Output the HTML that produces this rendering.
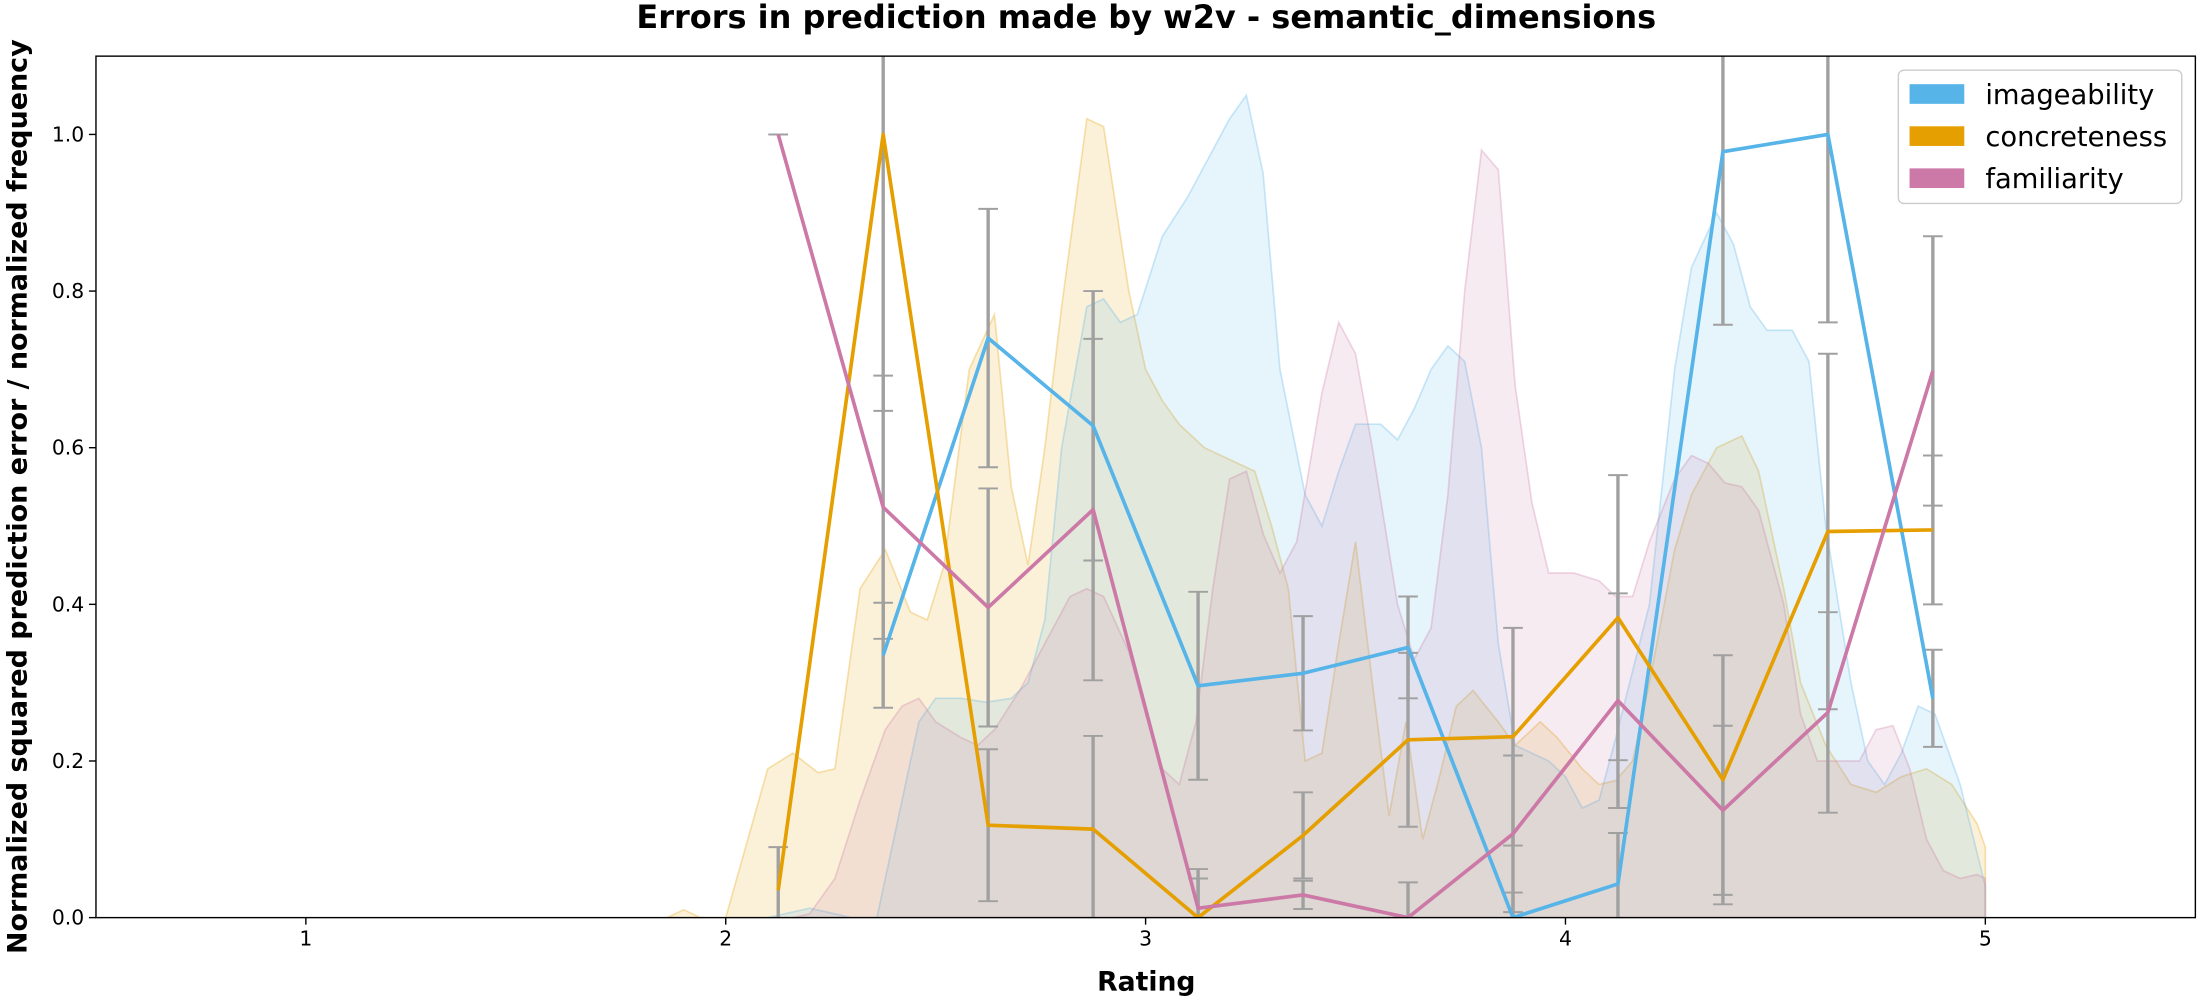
<!DOCTYPE html>
<html><head><meta charset="utf-8"><style>html,body{margin:0;padding:0;background:#fff}svg{display:block}</style></head>
<body>
<svg id="chart" width="2200" height="1000" viewBox="0 0 1568 712.7" xmlns="http://www.w3.org/2000/svg" font-family="'DejaVu Sans','Liberation Sans',sans-serif">
<defs><clipPath id="plotclip"><rect x="68.4" y="40" width="1496.3" height="614"/></clipPath></defs>
<rect width="1568" height="712.7" fill="#fff"/>
<text x="817" y="20" text-anchor="middle" font-size="22.8" font-weight="bold">Errors in prediction made by w2v - semantic_dimensions</text>
<g id="areas" clip-path="url(#plotclip)"></g>
<g id="errs" clip-path="url(#plotclip)"></g>
<g id="lines" clip-path="url(#plotclip)"></g>
<rect x="68.4" y="40" width="1496.3" height="614" fill="none" stroke="#000" stroke-width="1"/>
<g id="xticks"></g><g id="yticks"></g>
<text x="817" y="706" text-anchor="middle" font-size="19" font-weight="bold">Rating</text>
<text transform="translate(19,354) rotate(-90)" text-anchor="middle" font-size="19.2" font-weight="bold">Normalized squared prediction error / normalized frequency</text>
<g>
<rect x="1353" y="50" width="202" height="95" rx="4" fill="#fff" fill-opacity="0.8" stroke="#ccc" stroke-width="1"/>
<rect x="1361" y="60" width="39" height="14" fill="#56B4E9"/>
<text x="1415" y="74" font-size="19.5">imageability</text>
<rect x="1361" y="90" width="39" height="14" fill="#E69F00"/>
<text x="1415" y="104" font-size="19.5">concreteness</text>
<rect x="1361" y="120" width="39" height="14" fill="#CC79A7"/>
<text x="1415" y="134" font-size="19.5">familiarity</text>
</g>
</svg>
<script>
const xTicks = [1, 2, 3, 4, 5];
const yTicks = [0.0, 0.2, 0.4, 0.6, 0.8, 1.0];
const binCenters = [2.125, 2.375, 2.625, 2.875, 3.125, 3.375, 3.625, 3.875, 4.125, 4.375, 4.625, 4.875];
const imageErr = [null, 0.335, 0.74, 0.628, 0.296, 0.312, 0.345, 0.0, 0.043, 0.978, 1.0, 0.28];
const imageSd = [0, 0.067, 0.165, 0.172, 0.12, 0.073, 0.065, 0.032, 0.065, 0.221, 0.24, 0.062];
const concErr = [0.035, 1.0, 0.118, 0.113, 0.0, 0.105, 0.227, 0.231, 0.383, 0.176, 0.493, 0.495];
const concSd = [0.055, 0.353, 0.097, 0.119, 0.05, 0.055, 0.111, 0.139, 0.182, 0.159, 0.227, 0.095];
const famErr = [1.0, 0.524, 0.396, 0.521, 0.012, 0.029, 0.0, 0.107, 0.277, 0.137, 0.262, 0.698];
const famSd = [0, 0.168, 0.152, 0.218, 0.05, 0.018, 0.045, 0.1, 0.137, 0.108, 0.128, 0.172];
const concDensX = [1.86,1.9,1.94,2.0,2.1,2.16,2.22,2.26,2.32,2.38,2.44,2.48,2.52,2.58,2.64,2.68,2.72,2.76,2.8,2.86,2.9,2.96,3.0,3.04,3.08,3.14,3.2,3.26,3.3,3.34,3.38,3.42,3.46,3.5,3.54,3.58,3.62,3.66,3.7,3.74,3.78,3.84,3.88,3.94,3.98,4.04,4.08,4.12,4.16,4.2,4.26,4.3,4.36,4.42,4.46,4.52,4.56,4.62,4.68,4.74,4.8,4.86,4.92,4.98,5.0];
const concDens = [0,0.01,0,0,0.19,0.21,0.185,0.19,0.42,0.47,0.39,0.38,0.45,0.7,0.77,0.55,0.45,0.6,0.78,1.02,1.01,0.8,0.7,0.66,0.63,0.6,0.585,0.57,0.5,0.42,0.2,0.21,0.35,0.48,0.3,0.13,0.25,0.1,0.18,0.27,0.29,0.25,0.22,0.25,0.23,0.19,0.17,0.175,0.2,0.3,0.47,0.54,0.6,0.615,0.57,0.42,0.3,0.22,0.17,0.16,0.18,0.19,0.17,0.12,0.09];
const imageDensX = [2.1,2.2,2.3,2.36,2.4,2.46,2.5,2.56,2.62,2.68,2.72,2.76,2.8,2.86,2.9,2.94,2.98,3.04,3.1,3.14,3.2,3.24,3.28,3.32,3.38,3.42,3.46,3.5,3.56,3.6,3.64,3.68,3.72,3.76,3.8,3.84,3.88,3.92,3.96,4.0,4.04,4.08,4.12,4.2,4.26,4.3,4.36,4.4,4.44,4.48,4.54,4.58,4.62,4.68,4.72,4.76,4.8,4.84,4.88,4.94,5.0];
const imageDens = [0,0.012,0,0,0.1,0.25,0.28,0.28,0.275,0.28,0.3,0.38,0.6,0.78,0.79,0.76,0.77,0.87,0.92,0.96,1.02,1.05,0.95,0.7,0.54,0.5,0.57,0.63,0.63,0.61,0.65,0.7,0.73,0.71,0.6,0.35,0.22,0.21,0.2,0.18,0.14,0.15,0.23,0.4,0.7,0.83,0.9,0.86,0.78,0.75,0.75,0.71,0.5,0.3,0.2,0.17,0.21,0.27,0.26,0.17,0.04];
const famDensX = [2.16,2.2,2.26,2.32,2.38,2.42,2.46,2.5,2.56,2.6,2.64,2.7,2.76,2.82,2.86,2.9,2.96,3.0,3.04,3.08,3.12,3.16,3.2,3.24,3.28,3.32,3.36,3.42,3.46,3.5,3.54,3.6,3.64,3.68,3.72,3.76,3.8,3.84,3.88,3.92,3.96,4.02,4.08,4.12,4.16,4.2,4.26,4.3,4.34,4.38,4.42,4.46,4.52,4.56,4.6,4.66,4.7,4.74,4.78,4.82,4.86,4.9,4.94,4.98,5.0];
const famDens = [0,0.005,0.05,0.15,0.24,0.27,0.28,0.25,0.23,0.22,0.24,0.29,0.35,0.41,0.42,0.41,0.34,0.26,0.19,0.17,0.25,0.42,0.56,0.57,0.49,0.44,0.48,0.67,0.76,0.72,0.6,0.4,0.33,0.37,0.54,0.8,0.98,0.955,0.68,0.53,0.44,0.44,0.43,0.41,0.41,0.48,0.56,0.59,0.58,0.555,0.55,0.52,0.4,0.26,0.2,0.2,0.2,0.24,0.245,0.19,0.1,0.06,0.05,0.055,0.05];

const NS = 'http://www.w3.org/2000/svg';
const X0 = 218, XU = 299.25, Y0 = 654, YU = 558.2;
function xs(v){ return X0 + (v - 1) * XU; }
function ys(v){ return Y0 - v * YU; }
function mk(tag, attrs, parent){ const e = document.createElementNS(NS, tag); for (const k in attrs) e.setAttribute(k, attrs[k]); parent.appendChild(e); return e; }

const xg = document.getElementById('xticks');
xTicks.forEach(t => {
  const l = mk('line', {x1: xs(t), x2: xs(t), y1: Y0, y2: Y0 + 5, stroke: '#000', 'stroke-width': 1}, xg);
  
  
  const tx = mk('text', {x: xs(t), y: Y0 + 20, 'text-anchor': 'middle', 'font-size': 14.5}, xg);
  
  
  tx.textContent = String(t);
});
const yg = document.getElementById('yticks');
yTicks.forEach(t => {
  const l = mk('line', {x1: 63.4, x2: 68.4, y1: ys(t), y2: ys(t), stroke: '#000', 'stroke-width': 1}, yg);
  
  
  const tx = mk('text', {x: 60, y: ys(t) + 5, 'text-anchor': 'end', 'font-size': 14.5}, yg);
  
  
  tx.textContent = t.toFixed(1);
});

const ag = document.getElementById('areas');
function area(dx, dv, color, name){
  let d = 'M' + xs(dx[0]) + ',' + ys(0);
  dx.forEach((x, i) => { d += ' L' + xs(x) + ',' + ys(dv[i]); });
  d += ' L' + xs(dx[dx.length - 1]) + ',' + ys(0) + ' Z';
  const p = mk('path', {d: d, fill: color, 'fill-opacity': 0.15, stroke: color, 'stroke-opacity': 0.3, 'stroke-width': 1.2}, ag);
  
  
}
area(concDensX, concDens, '#E69F00', 'concreteness-density');
area(imageDensX, imageDens, '#56B4E9', 'imageability-density');
area(famDensX, famDens, '#CC79A7', 'familiarity-density');

const eg = document.getElementById('errs');
function errbars(vals, sds, name){
  binCenters.forEach((c, i) => {
    if (vals[i] === null) return;
    const lo = vals[i] - sds[i], hi = vals[i] + sds[i];
    const g = mk('g', {stroke: '#a0a0a0', 'stroke-width': 2.4}, eg);
    
    
    mk('line', {x1: xs(c), x2: xs(c), y1: ys(lo), y2: ys(hi)}, g);
    mk('line', {x1: xs(c) - 7, x2: xs(c) + 7, y1: ys(lo), y2: ys(lo), 'stroke-width': 1.4}, g);
    mk('line', {x1: xs(c) - 7, x2: xs(c) + 7, y1: ys(hi), y2: ys(hi), 'stroke-width': 1.4}, g);
  });
}
errbars(imageErr, imageSd, 'imageability-error-bar');
errbars(concErr, concSd, 'concreteness-error-bar');
errbars(famErr, famSd, 'familiarity-error-bar');

const lg = document.getElementById('lines');
function line(vals, color, name){
  const pts = [];
  binCenters.forEach((c, i) => { if (vals[i] !== null) pts.push(xs(c) + ',' + ys(vals[i])); });
  const p = mk('polyline', {points: pts.join(' '), fill: 'none', stroke: color, 'stroke-width': 2.6, 'stroke-linejoin': 'round'}, lg);
  
  
}
line(imageErr, '#56B4E9', 'imageability-line');
line(concErr, '#E69F00', 'concreteness-line');
line(famErr, '#CC79A7', 'familiarity-line');
</script>
</body></html>
